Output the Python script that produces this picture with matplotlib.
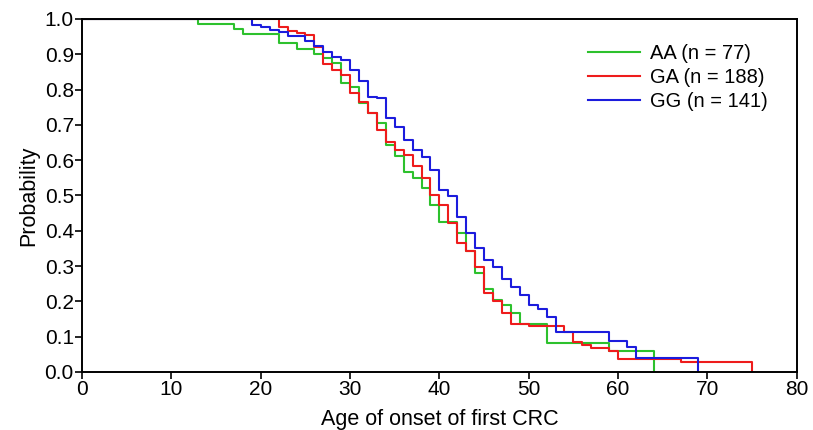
import matplotlib
matplotlib.use('Agg')
import matplotlib.pyplot as plt

# Edades (años) en que baja cada curva y probabilidad tras la bajada
edad_aa = [0, 13, 17, 18, 22, 24, 26, 27, 28, 29, 30, 31, 32, 33, 34, 35, 36, 37, 38, 39, 40,
           42, 43, 44, 45, 46, 47, 48, 49, 52, 59, 64]
prob_aa = [1.0, 0.985, 0.972, 0.958, 0.931, 0.915, 0.902, 0.889, 0.874, 0.818, 0.808, 0.763,
           0.733, 0.705, 0.643, 0.612, 0.565, 0.549, 0.520, 0.473, 0.426,
           0.393, 0.344, 0.281, 0.234, 0.204, 0.190, 0.166, 0.136, 0.081, 0.058, 0.0]

edad_ga = [0, 22, 23, 24, 25, 26, 27, 28, 29, 30, 31, 32, 33, 34, 35, 36, 37, 38, 39, 40,
           41, 42, 43, 44, 45, 46, 47, 48, 50, 54, 55, 56, 57, 59, 60, 67, 75]
prob_ga = [1.0, 0.978, 0.966, 0.959, 0.955, 0.920, 0.873, 0.856, 0.841, 0.789, 0.764, 0.733,
           0.686, 0.652, 0.629, 0.615, 0.584, 0.549, 0.501, 0.473,
           0.421, 0.365, 0.344, 0.297, 0.223, 0.202, 0.166, 0.136, 0.130, 0.112, 0.084,
           0.076, 0.067, 0.058, 0.037, 0.029, 0.0]

edad_gg = [0, 19, 20, 21, 22, 23, 25, 26, 27, 28, 29, 30, 31, 32, 33, 34, 35, 36, 37, 38, 39,
           40, 41, 42, 43, 44, 45, 46, 47, 48, 49, 50, 51, 52, 53, 59, 61, 62, 69]
prob_gg = [1.0, 0.983, 0.976, 0.969, 0.962, 0.952, 0.938, 0.922, 0.906, 0.893, 0.884, 0.856,
           0.825, 0.780, 0.775, 0.719, 0.695, 0.657, 0.629, 0.610, 0.572,
           0.516, 0.499, 0.438, 0.393, 0.350, 0.317, 0.298, 0.263, 0.240, 0.218, 0.190,
           0.178, 0.157, 0.114, 0.089, 0.072, 0.039, 0.0]

etiquetas = ['AA (n = 77)', 'GA (n = 188)', 'GG (n = 141)']
colores = ['#2dc12d', '#ee1c1c', '#1c1cdd']

plt.rcParams['font.family'] = ['Liberation Sans', 'DejaVu Sans']

fig = plt.figure(figsize=(8.13, 4.30), dpi=100)
ax = fig.add_axes([0.101, 0.135, 0.879, 0.821])

for edades, probs, etiqueta, color in zip([edad_aa, edad_ga, edad_gg],
                                          [prob_aa, prob_ga, prob_gg],
                                          etiquetas, colores):
    ax.step(edades, probs, where='post', color=color, linewidth=1.5, label=etiqueta)

ax.set_xlim(0, 80)
ax.set_ylim(0, 1.0)
ax.set_xticks(range(0, 81, 10))
ax.set_yticks([i / 10 for i in range(11)])
ax.set_yticklabels([f"{i / 10:.1f}" for i in range(11)])
ax.tick_params(direction='out', length=5, width=1.2, labelsize=15, pad=1)
for spine in ax.spines.values():
    spine.set_linewidth(1.4)

ax.set_xlabel('Age of onset of first CRC', fontsize=15.5, labelpad=7)
ax.set_ylabel('Probability', fontsize=15.5, labelpad=4)

ax.legend(loc='upper right', frameon=False, fontsize=14.5, handlelength=2.6,
          handletextpad=0.5, labelspacing=0.25, bbox_to_anchor=(0.985, 0.98))

fig.savefig('out.png', dpi=100)
